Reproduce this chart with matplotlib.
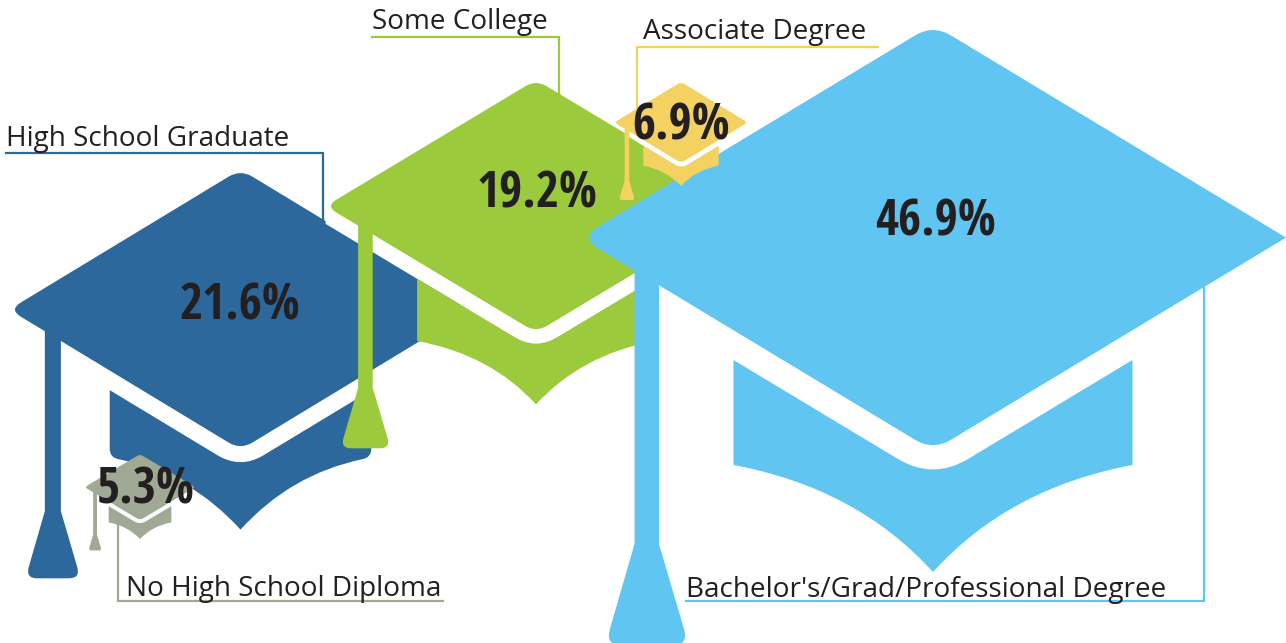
import matplotlib
matplotlib.use('Agg')
import matplotlib.pyplot as plt
from matplotlib.patches import PathPatch
from matplotlib.path import Path

categories = ['High School Graduate', 'No High School Diploma', 'Some College',
              "Bachelor's/Grad/Professional Degree", 'Associate Degree']
shares = [21.6, 5.3, 19.2, 46.9, 6.9]

colors = ['#2D689C', '#A0A994', '#9BCB3C', '#61C5F1', '#F3D262']

# cap placement in pixels: centre x, top y, x scale, y scale, left end of the white band
cap_cx = [240.5, 140, 536, 933, 681]
cap_top = [173, 455, 83, 30, 83]
cap_sx = [225.5 / 344, 54 / 344, 205 / 344, 1, 65 / 344]
cap_sy = [0.658, 0.155, 0.593, 1, 0.19]
band_start = [-288, -288, -353, -274, -274]

# label text and leader line (pixels)
label_x = [6, 126, 372, 686, 643]
label_y = [146, 596, 29, 597, 39]
leader_x = [(6, 323, 323), (118, 118, 443), (372, 558.5, 558.5), (686, 1204, 1204), (878, 637, 637)]
leader_y = [(153, 153, 222), (523, 601, 601), (37, 37, 95), (601, 601, 288), (46.5, 46.5, 110)]
leader_z = [1, 1, 1, 7, 1]

# percent text centre x and baseline
pct_x = [240, 146, 537, 936, 681]
pct_y = [320, 503, 208, 235, 139]

TEXT = '#231F20'

fig = plt.figure(figsize=(12.86, 6.43), dpi=100)
ax = fig.add_axes([0, 0, 1, 1])
ax.set_xlim(0, 1286)
ax.set_ylim(643, 0)
ax.axis('off')


def rounded(points, radii):
    # closed path with the corners cut by quadratic curves
    verts = []
    codes = []
    n = len(points)
    for i in range(n):
        px, py = points[i]
        ax0, ay0 = points[i - 1]
        bx, by = points[(i + 1) % n]
        r = radii[i]
        la = ((ax0 - px) ** 2 + (ay0 - py) ** 2) ** 0.5
        lb = ((bx - px) ** 2 + (by - py) ** 2) ** 0.5
        start = (px + (ax0 - px) * r / la, py + (ay0 - py) * r / la)
        end = (px + (bx - px) * r / lb, py + (by - py) * r / lb)
        verts.append(start)
        codes.append(Path.MOVETO if i == 0 else Path.LINETO)
        verts += [(px, py), end]
        codes += [Path.CURVE3, Path.CURVE3]
    verts.append(verts[0])
    codes.append(Path.CLOSEPOLY)
    return Path(verts, codes)


def draw_cap(cx, top, sx, sy, color, band_x, zorder, brim_radius=0):
    def tr(x, y):
        return (cx + x * sx, top + (y - 30) * sy)

    s = (sx + sy) / 2

    # white band under the board, it hides what lies behind this cap
    band_y = 267.6 + (band_x + 353) * 0.603
    band = [tr(band_x, 237.6), tr(band_x, band_y), tr(0, 480.6), tr(353, 267.6)]
    ax.add_patch(PathPatch(rounded(band, [0.01, 0.01, 20 * s, 0.01]), fc='white', ec='none', zorder=zorder))

    # brim
    bx = 199.5
    verts = [tr(-bx, 360), tr(-35, 459), tr(0, 480), tr(35, 459), tr(bx, 360),
             tr(bx, 463 - brim_radius), tr(bx, 463), tr(bx - brim_radius, 465),
             tr(76, 488), tr(0, 572), tr(-76, 488), tr(-bx + brim_radius, 465),
             tr(-bx, 463), tr(-bx, 463 - brim_radius), tr(-bx, 360)]
    codes = [Path.MOVETO, Path.LINETO, Path.CURVE3, Path.CURVE3, Path.LINETO,
             Path.LINETO, Path.CURVE3, Path.CURVE3,
             Path.CURVE3, Path.CURVE3, Path.CURVE3, Path.CURVE3,
             Path.CURVE3, Path.CURVE3, Path.CLOSEPOLY]
    ax.add_patch(PathPatch(Path(verts, codes), fc=color, ec='none', zorder=zorder))

    # tassel
    tassel = [tr(-298.5, 250), tr(-274, 250), tr(-274, 544), tr(-244, 646), tr(-328, 646), tr(-298.5, 544)]
    ax.add_patch(PathPatch(rounded(tassel, [0.01, 0.01, 0.01, 18 * s, 18 * s, 0.01]),
                           fc=color, ec='none', zorder=zorder))

    # board
    board = [tr(0, 24.6), tr(353, 237.6), tr(0, 450.6), tr(-353, 237.6)]
    radii = [21 * sx] * 4
    if sx == 1:
        radii[1] = 0.01  # the big one is cut off by the picture edge
    ax.add_patch(PathPatch(rounded(board, radii), fc=color, ec='none', zorder=zorder))


# leaders go behind the caps, except the big one which runs over its own band
for i in range(len(categories)):
    ax.plot(leader_x[i], leader_y[i], color=colors[i], lw=1.6, zorder=leader_z[i], solid_joinstyle='miter')

for i in range(len(categories)):
    draw_cap(cap_cx[i], cap_top[i], cap_sx[i], cap_sy[i], colors[i], band_start[i],
             zorder=2 + i, brim_radius=14 if i == 0 else 0)

for i, cat in enumerate(categories):
    ax.text(label_x[i], label_y[i], cat, fontsize=20.1, family='Open Sans', fontweight='normal',
            color=TEXT, ha='left', va='baseline', zorder=10)
    ax.text(pct_x[i], pct_y[i], f'{shares[i]}%', fontsize=36, family='Open Sans Condensed',
            fontweight='bold', color=TEXT, ha='center', va='baseline', zorder=10)

plt.savefig('out.png', dpi=100)
